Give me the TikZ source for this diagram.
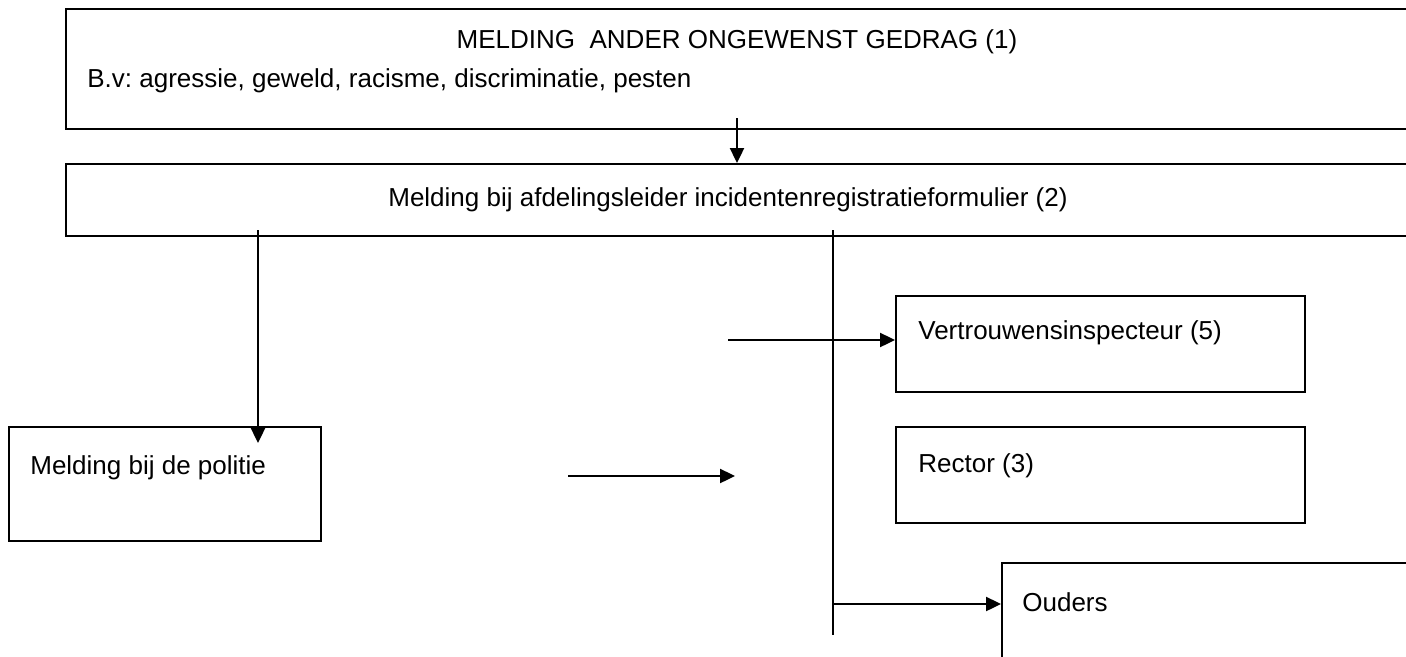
\documentclass[tikz,border=0pt]{standalone}
\usepackage{fontspec}
\setmainfont{Liberation Sans}
\usetikzlibrary{arrows.meta}
\frenchspacing
\tikzset{
    vak/.style={draw, line width=1.1pt, anchor=north west, inner sep=0pt},
    tekst/.style={anchor=west, inner sep=0pt, font=\fontsize{14.8}{17}\selectfont},
    pijl/.style={line width=1.1pt, -{Triangle[length=8.5pt,width=8pt]}}
}
\begin{document}
\begin{tikzpicture}[x=0.02cm, y=-0.02cm]
            \useasboundingbox (0,0) rectangle (1406,656);
            \clip (0,0) rectangle (1406,656);
            \node[vak, minimum width=1400*0.02cm, minimum height=120*0.02cm] (melding) at (65,8) {};
            \node[vak, minimum width=1400*0.02cm, minimum height=72*0.02cm] (afdeling) at (65,163) {};
            \node[vak, minimum width=312*0.02cm, minimum height=114*0.02cm] (politie) at (8,426) {};
            \node[vak, minimum width=409*0.02cm, minimum height=96*0.02cm] (vertrouwens) at (895,295) {};
            \node[vak, minimum width=409*0.02cm, minimum height=96*0.02cm] (rector) at (895,426) {};
            \node[vak, minimum width=450*0.02cm, minimum height=150*0.02cm] (ouders) at (1001,562) {};
            \node[tekst, anchor=center] (t1) at (737,42) {MELDING\ \ ANDER ONGEWENST GEDRAG (1)};
            \node[tekst] (t1b) at (87,81) {B.v: agressie, geweld, racisme, discriminatie, pesten};
            \node[tekst, anchor=center] (t2) at (728,200) {Melding bij afdelingsleider incidentenregistratieformulier (2)};
            \node[tekst] (t3) at (30,468) {Melding bij de politie};
            \node[tekst] (t4) at (918,333) {Vertrouwensinspecteur (5)};
            \node[tekst] (t5) at (918,466) {Rector (3)};
            \node[tekst] (t6) at (1022,602) {Ouders};
            % lijnen
            \coordinate (s1) at (737,118);
            \coordinate (s2) at (258,230);
            \coordinate (e2) at (258,443);
            \coordinate (v1) at (833,230);
            \coordinate (v2) at (833,635);
            \coordinate (s3) at (728,340);
            \coordinate (s4) at (568,476);
            \coordinate (e4) at (735,476);
            \draw[pijl] (s1) -- (s1 |- afdeling.north);
            \draw[pijl] (s2) -- (e2);
            \draw[line width=1.1pt] (v1) -- (v2);
            \draw[pijl] (s3) -- (s3 -| vertrouwens.west);
            \draw[pijl] (s4) -- (e4);
            \draw[pijl] (833,604) -- (833,604 -| ouders.west);
        \end{tikzpicture}
\end{document}
